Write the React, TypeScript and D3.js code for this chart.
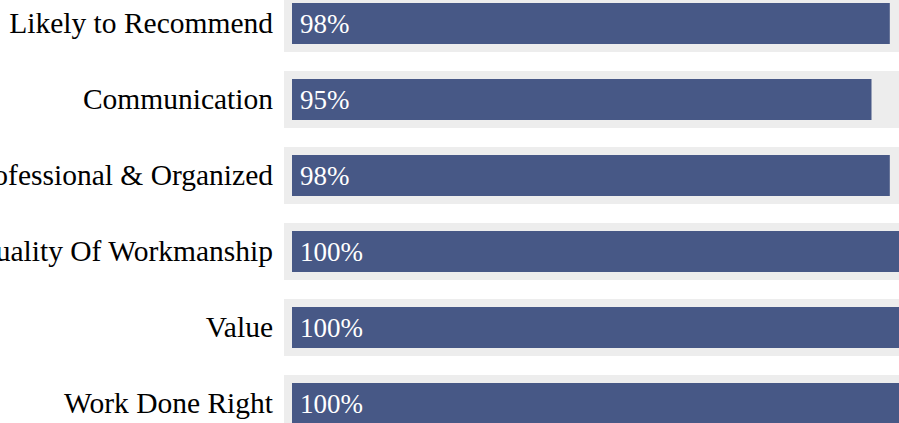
import React from "react";
import * as d3 from "d3";

const categories = [
  "Likely to Recommend",
  "Communication",
  "Professional & Organized",
  "Quality Of Workmanship",
  "Value",
  "Work Done Right",
];
const values = [98, 95, 98, 100, 100, 100];

const W = 899;
const H = 423;
const FONT = "Liberation Serif, Times New Roman, serif";

export default function App() {
  const y = d3
    .scaleBand<string>()
    .domain(categories)
    .range([-5, 432])
    .paddingInner(0.25)
    .paddingOuter(0);
  const x = d3.scaleLinear().domain([0, 100]).range([292, 902]);
  const pad = 8;
  const trackLeft = x(0) - pad;
  const trackRight = x(100) + pad;
  const bw = y.bandwidth();

  return (
    <svg
      width={W}
      height={H}
      style={{ position: "absolute", left: 0, top: 0, overflow: "hidden", display: "block", fontFamily: FONT }}
    >
      {categories.map((c, i) => {
        const y0 = y(c)!;
        const cy = y0 + bw / 2;
        return (
          <g key={c}>
            <rect x={trackLeft} y={y0} width={trackRight - trackLeft} height={bw} fill="#ededed" />
            <rect x={x(0)} y={y0 + pad} width={x(values[i]) - x(0)} height={bw - 2 * pad} fill="#475886" />
            <text x={273} y={cy + 9.7} textAnchor="end" style={{ fontSize: "29.5px", fontFamily: FONT }} fill="#000">
              {c}
            </text>
            <text x={300} y={cy + 9.7} style={{ fontSize: "27px", fontFamily: FONT }} fill="#fff">
              {values[i]}%
            </text>
          </g>
        );
      })}
    </svg>
  );
}
